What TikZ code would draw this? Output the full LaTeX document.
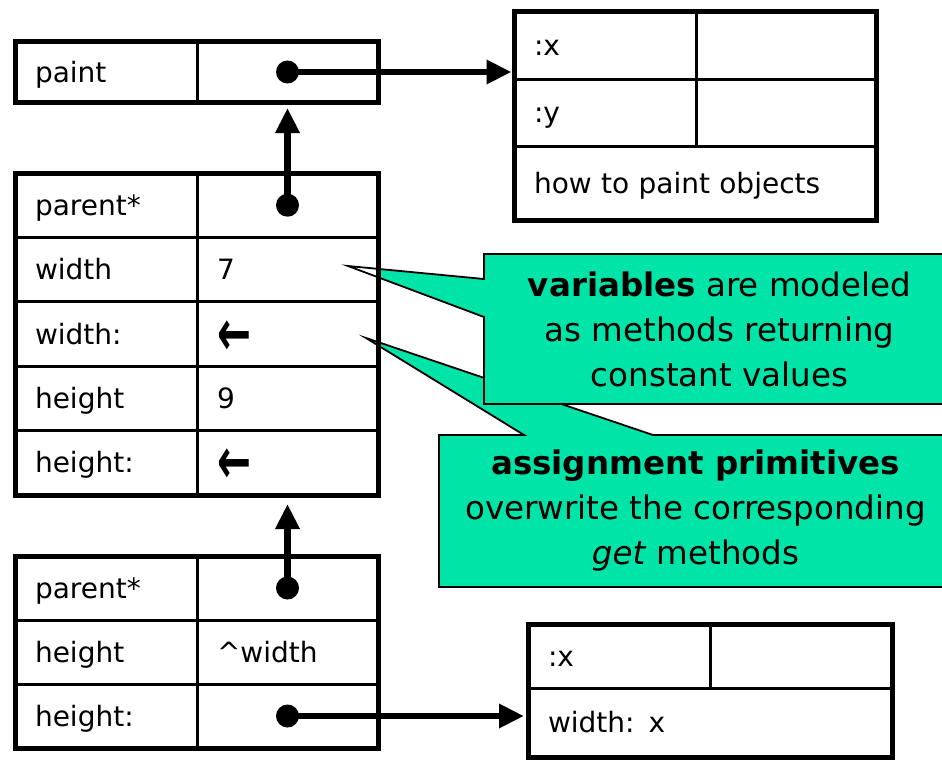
\documentclass[tikz,border=0pt]{standalone}
\usepackage{graphicx}
\usepackage{fontspec}
\setmainfont{DejaVu Sans}
\usetikzlibrary{arrows.meta,backgrounds}
\definecolor{callgreen}{RGB}{0,228,168}
\newcommand\leftglyph{\raisebox{-11pt}[0pt][0pt]{\scalebox{1.45}[2.3]{\bfseries ←}}}
\begin{document}
\begin{tikzpicture}[x=1pt,y=-1pt,
  every node/.style={font=\fontsize{28}{34}\selectfont},
  cell/.style 2 args={draw, line width=3pt, anchor=north west, text width=#1,
    minimum height=#2, inner xsep=20pt, inner ysep=0pt, text height=24pt,
    text depth=4pt, outer sep=0pt, align=left},
  outer/.style={draw, line width=5pt},
  dot/.style={circle, fill=black, minimum size=23pt, inner sep=0pt},
  ptr/.style={line width=6.5pt, -{Triangle[length=25pt,width=23pt]}},
  callout/.style={font=\fontsize{32.5}{45}\selectfont, align=center,
    inner sep=0pt, outer sep=0pt},
  callline/.style={draw=black, line width=1.8pt, line join=miter},
]
\useasboundingbox (0,0) rectangle (942,760);

% ---- paint box
\node[cell={142pt}{60pt}] (pL) at (15,42) {paint};
\node[cell={141pt}{60pt}] (pR) at (pL.north east) {};
\draw[outer] (pL.north west) rectangle (pR.south east);

% ---- top right object
\node[cell={142pt}{67pt}] (a1L) at (514,12) {:x};
\node[cell={140pt}{67pt}] (a1R) at (a1L.north east) {};
\node[cell={142pt}{67pt}] (a2L) at (a1L.south west) {:y};
\node[cell={140pt}{67pt}] (a2R) at (a2L.north east) {};
\node[cell={322pt}{74pt}] (a3) at (a2L.south west) {how to paint objects};
\draw[outer] (a1L.north west) rectangle (a3.south east);

% ---- middle object
\node[cell={142pt}{64.4pt}] (m1L) at (15,173) {parent*};
\node[cell={141pt}{64.4pt}] (m1R) at (m1L.north east) {};
\node[cell={142pt}{64.4pt}] (m2L) at (m1L.south west) {width};
\node[cell={141pt}{64.4pt}] (m2R) at (m2L.north east) {7};
\node[cell={142pt}{64.4pt}] (m3L) at (m2L.south west) {width:};
\node[cell={141pt}{64.4pt}] (m3R) at (m3L.north east) {\leftglyph};
\node[cell={142pt}{64.4pt}] (m4L) at (m3L.south west) {height};
\node[cell={141pt}{64.4pt}] (m4R) at (m4L.north east) {9};
\node[cell={142pt}{64.4pt}] (m5L) at (m4L.south west) {height:};
\node[cell={141pt}{64.4pt}] (m5R) at (m5L.north east) {\leftglyph};
\draw[outer] (m1L.north west) rectangle (m5R.south east);

% ---- bottom object
\node[cell={142pt}{64pt}] (b1L) at (15,556) {parent*};
\node[cell={141pt}{64pt}] (b1R) at (b1L.north east) {};
\node[cell={142pt}{64pt}] (b2L) at (b1L.south west) {height};
\node[cell={141pt}{64pt}] (b2R) at (b2L.north east) {\textasciicircum width};
\node[cell={142pt}{64pt}] (b3L) at (b2L.south west) {height:};
\node[cell={141pt}{64pt}] (b3R) at (b3L.north east) {};
\draw[outer] (b1L.north west) rectangle (b3R.south east);

% ---- bottom right object
\node[cell={142pt}{64pt}] (r1L) at (528,624) {:x};
\node[cell={142pt}{64pt}] (r1R) at (r1L.north east) {};
\node[cell={324pt}{69pt}] (r2) at (r1L.south west) {width: x};
\draw[outer] (r1L.north west) rectangle (r2.south east);

% ---- pointers
\node[dot] (dp) at (pR.center) {};
\node[dot] (dm) at (m1R.center) {};
\node[dot] (db) at (b1R.center) {};
\node[dot] (dh) at (b3R.center) {};
\draw[ptr, shorten >=2.5pt] (dp.center) -- (dp.center -| a1L.west);
\draw[ptr, shorten >=6pt] (dm.center) -- (dm.center |- pR.south);
\draw[ptr, shorten >=9pt] (db.center) -- (db.center |- m5R.south);
\draw[ptr, shorten >=4pt] (dh.center) -- (dh.center -| r2.west);

% ---- callouts
\node[callout, minimum width=471pt, minimum height=150pt] (c1) at (719.5,329)
  {\textbf{variables} are modeled\\as methods returning\\constant values};
\node[callout, minimum width=513pt, minimum height=152pt] (c2) at (695.5,511)
  {\textbf{assignment primitives}\\overwrite the corresponding\\\textit{get} methods};
\coordinate (t1) at (348,266);
\coordinate (t2) at (366,338);
\coordinate (c1a) at (484,279);
\coordinate (c1b) at (484,317);
\coordinate (c2a) at (524,435);
\coordinate (c2b) at (653,435);

\begin{scope}[on background layer]
  \begin{scope}
    \clip (378,0) rectangle (980,760);
    \fill[callgreen] (c2.north west) -- (c2a) -- (t2) -- (c2b) -- (c2.north east)
      -- (c2.south east) -- (c2.south west) -- cycle;
  \end{scope}
  \path[callline] (c2.north west) -- (c2a) -- (t2) -- (c2b) -- (c2.north east)
      -- (c2.south east) -- (c2.south west) -- cycle;
  \begin{scope}
    \clip (378,0) rectangle (980,760);
    \fill[callgreen] (c1.north west) -- (c1a) -- (t1) -- (c1b) -- (c1.south west)
      -- (c1.south east) -- (c1.north east) -- cycle;
  \end{scope}
  \path[callline] (c1.north west) -- (c1a) -- (t1) -- (c1b) -- (c1.south west)
      -- (c1.south east) -- (c1.north east) -- cycle;
\end{scope}
\end{tikzpicture}
\end{document}
